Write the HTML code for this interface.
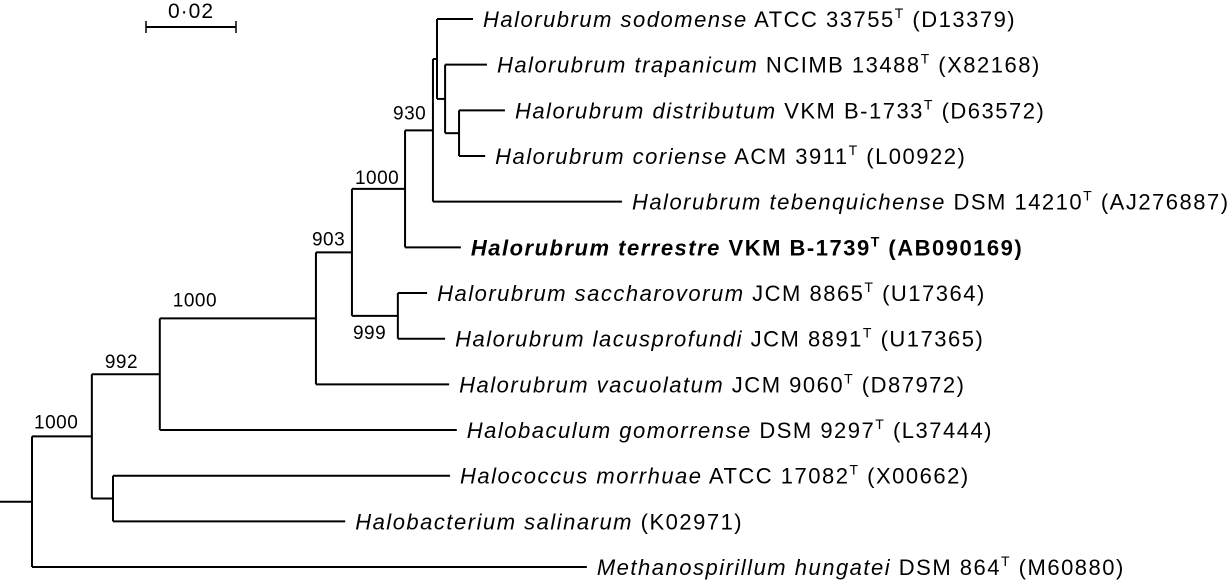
<!DOCTYPE html>
<html><head><meta charset="utf-8"><style>
html,body{margin:0;padding:0;background:#fff}
svg{display:block}
text{font-family:"Liberation Sans",Arial,sans-serif;fill:#000}
</style></head><body>
<svg id="tree" width="1231" height="580" viewBox="0 0 1231 580" xmlns="http://www.w3.org/2000/svg">
<g id="scale">
<line x1="146" y1="27" x2="236" y2="27" stroke="#000" stroke-width="2"/>
<line x1="146" y1="21" x2="146" y2="33" stroke="#000" stroke-width="1.5"/>
<line x1="236" y1="21" x2="236" y2="33" stroke="#000" stroke-width="1.5"/>
<text x="191" y="18" text-anchor="middle" font-size="21" letter-spacing="1">0·02</text>
</g>
<g id="branches"></g>
<g id="labels"></g>
</svg>
<script>
const nodeIds = ["root","n992","n1000a","nHc","n903","n1000b","n999","n1000c","n930","nA","nB","nC",
  "sodomense","trapanicum","distributum","coriense","tebenquichense","terrestre","saccharovorum","lacusprofundi","vacuolatum","gomorrense","morrhuae","salinarum","methanospirillum"];
const parents = [null,"root","n992","n992","n1000a","n903","n1000b","n1000b","n1000c","n930","nA","nB",
  "nA","nB","nC","nC","n930","n1000c","n999","n999","n903","n1000a","nHc","nHc","root"];
const dists = [0,0.0133,0.0284,0.0180,0.0631,0.0711,0.0813,0.0829,0.0891,0.0900,0.0918,0.0949,
  0.0980,0.1011,0.1051,0.1007,0.1311,0.0953,0.0878,0.0918,0.0927,0.0944,0.0929,0.0696,0.1233];
const leafGenus = ["Halorubrum sodomense","Halorubrum trapanicum","Halorubrum distributum","Halorubrum coriense","Halorubrum tebenquichense","Halorubrum terrestre","Halorubrum saccharovorum","Halorubrum lacusprofundi","Halorubrum vacuolatum","Halobaculum gomorrense","Halococcus morrhuae","Halobacterium salinarum","Methanospirillum hungatei"];
const leafStrain = ["ATCC 33755","NCIMB 13488","VKM B-1733","ACM 3911","DSM 14210","VKM B-1739","JCM 8865","JCM 8891","JCM 9060","DSM 9297","ATCC 17082","","DSM 864"];
const leafType = [1,1,1,1,1,1,1,1,1,1,1,0,1];
const leafAcc = ["(D13379)","(X82168)","(D63572)","(L00922)","(AJ276887)","(AB090169)","(U17364)","(U17365)","(D87972)","(L37444)","(X00662)","(K02971)","(M60880)"];
const bootNodes = ["n930","n1000c","n1000b","n903","n1000a","n992","n999"];
const bootValues = ["930","1000","903","1000","992","1000","999"];
const bootDx = [-12,3,-4,13,13,2,1];
const bootDy = [-11,-5,-7,-12,-6,-8,23];

const X0=32, PXU=4500, Y0=19, DY=45.67;
const xs = d => X0 + d*PXU;
const ns="http://www.w3.org/2000/svg";
const idx = {}; nodeIds.forEach((n,i)=>idx[n]=i);
const children = {}; nodeIds.forEach(n=>children[n]=[]);
parents.forEach((p,i)=>{ if(p) children[p].push(nodeIds[i]); });
const leaves = nodeIds.slice(12);
const Y = {};
leaves.forEach((l,i)=>Y[l]=Y0+i*DY);
function yOf(n){ if(Y[n]!==undefined) return Y[n]; const c=children[n].map(yOf); Y[n]=(Math.min(...c)+Math.max(...c))/2; return Y[n]; }
yOf("root");
const br=document.getElementById('branches'), lb=document.getElementById('labels');
function line(x1,y1,x2,y2,name){ const l=document.createElementNS(ns,'line');
 l.setAttribute('x1',x1);l.setAttribute('y1',y1);l.setAttribute('x2',x2);l.setAttribute('y2',y2);
 l.setAttribute('stroke','#000');l.setAttribute('stroke-width','2');
 
 
 br.appendChild(l); }
line(0,Y.root,xs(0),Y.root,'root-stem');
nodeIds.forEach((n,i)=>{
 const p=parents[i];
 if(p) line(xs(dists[idx[p]]),Y[n],xs(dists[i]),Y[n],'branch-'+n);
 if(children[n].length){ const c=children[n].map(k=>Y[k]); line(xs(dists[i]),Math.min(...c),xs(dists[i]),Math.max(...c),'node-'+n); }
});
leaves.forEach((l,i)=>{
 const t=document.createElementNS(ns,'text');
 t.setAttribute('x',xs(dists[idx[l]])+10); t.setAttribute('y',Y[l]+8);
 t.setAttribute('font-size','22');
 t.setAttribute('letter-spacing','1.5');
 
 
 if(l==='terrestre') t.setAttribute('font-weight','bold');
 const a=document.createElementNS(ns,'tspan'); a.setAttribute('font-style','italic'); a.textContent=leafGenus[i]; t.appendChild(a);
 if(leafStrain[i]){ const b=document.createElementNS(ns,'tspan'); b.textContent=' '+leafStrain[i]; t.appendChild(b); }
 if(leafType[i]){ const s=document.createElementNS(ns,'tspan'); s.setAttribute('font-size','14'); s.setAttribute('dy','-9'); s.textContent='T'; t.appendChild(s);
   const r=document.createElementNS(ns,'tspan'); r.setAttribute('dy','9'); r.textContent='  '+leafAcc[i]; t.appendChild(r); }
 else { const r=document.createElementNS(ns,'tspan'); r.textContent=' '+leafAcc[i]; t.appendChild(r); }
 lb.appendChild(t);
});
bootNodes.forEach((n,i)=>{
 const p=parents[idx[n]];
 const t=document.createElementNS(ns,'text');
 const px=xs(dists[idx[p]]);
 t.setAttribute('font-size','19');
 t.setAttribute('letter-spacing','0.5');
 
 
 t.setAttribute('x',px+bootDx[i]); t.setAttribute('y',Y[n]+bootDy[i]);
 t.textContent=bootValues[i];
 lb.appendChild(t);
});
</script>
</body></html>
